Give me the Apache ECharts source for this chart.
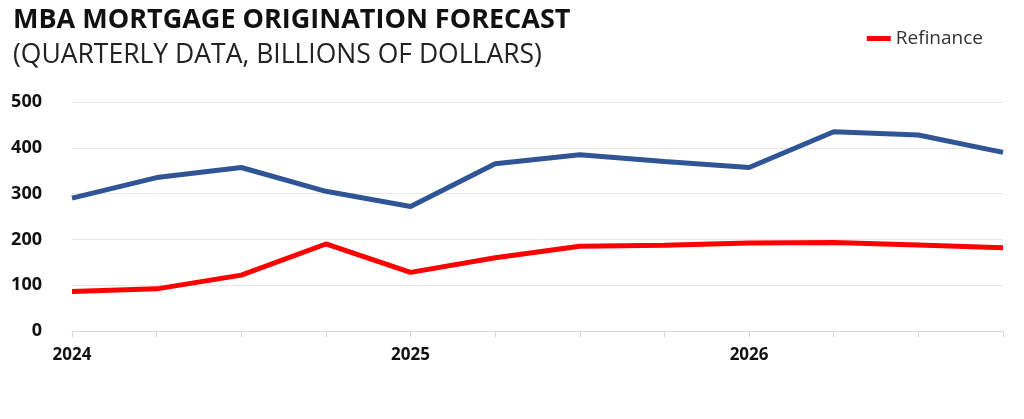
<!DOCTYPE html>
<html>
<head>
<meta charset="UTF-8">
<script src="https://cdn.jsdelivr.net/npm/echarts@6/dist/echarts.min.js"></script>
<style>html,body{margin:0;padding:0;background:#fff}</style>
</head>
<body>
<div id="container" style="width:1024px;height:419px"></div>
<script type="text/javascript">
var quarters = ['2024','2024Q2','2024Q3','2024Q4','2025','2025Q2','2025Q3','2025Q4','2026','2026Q2','2026Q3','2026Q4'];
var purchase = [290, 335, 357, 305, 272, 365, 385, 370, 357, 435, 428, 390];
var refinance = [86, 92, 122, 190, 128, 160, 185, 187, 192, 193, 188, 182];
var yTicks = [0, 100, 200, 300, 400, 500];

var myChart = echarts.init(document.getElementById('container'));
var font = 'Open Sans';
var option = {
	animation : false,
	title : {
		text : 'MBA MORTGAGE ORIGINATION FORECAST',
		subtext : '(QUARTERLY DATA, BILLIONS OF DOLLARS)',
		left : 8,
		top : 2,
		itemGap : 8,
		textStyle : { fontFamily : font, fontSize : 27, fontWeight : 'bold', color : '#111' },
		subtextStyle : { fontFamily : font, fontSize : 26.5, color : '#222' }
	},
	legend : {
		data : [ 'Refinance' ],
		right : 36,
		top : 24,
		icon : 'rect',
		itemWidth : 24,
		itemHeight : 5,
		textStyle : { fontFamily : font, fontSize : 19, color : '#333' }
	},
	grid : { left : 72, right : 21, top : 102, bottom : 88 },
	xAxis : {
		type : 'category',
		boundaryGap : false,
		data : quarters,
		axisLine : { lineStyle : { color : '#d9d9d9' } },
		axisTick : { show : true, interval : 0, length : 6, lineStyle : { color : '#d9d9d9' } },
		axisLabel : {
			interval : 3,
			margin : 16,
			fontFamily : font, fontSize : 17, fontWeight : 'bold', color : '#111'
		}
	},
	yAxis : {
		type : 'value',
		min : yTicks[0],
		max : yTicks[yTicks.length - 1],
		interval : 100,
		axisLabel : { fontFamily : font, fontSize : 18, fontWeight : 'bold', color : '#111', margin : 30 },
		splitLine : { lineStyle : { color : '#e8e8e8' } }
	},
	series : [ {
		name : 'Purchase',
		type : 'line',
		showSymbol : false,
		data : purchase,
		lineStyle : { color : '#2f5597', width : 5 },
		itemStyle : { color : '#2f5597' }
	}, {
		name : 'Refinance',
		type : 'line',
		showSymbol : false,
		data : refinance,
		lineStyle : { color : '#ff0000', width : 5 },
		itemStyle : { color : '#ff0000' }
	} ]
};
myChart.setOption(option);
</script>
</body>
</html>
